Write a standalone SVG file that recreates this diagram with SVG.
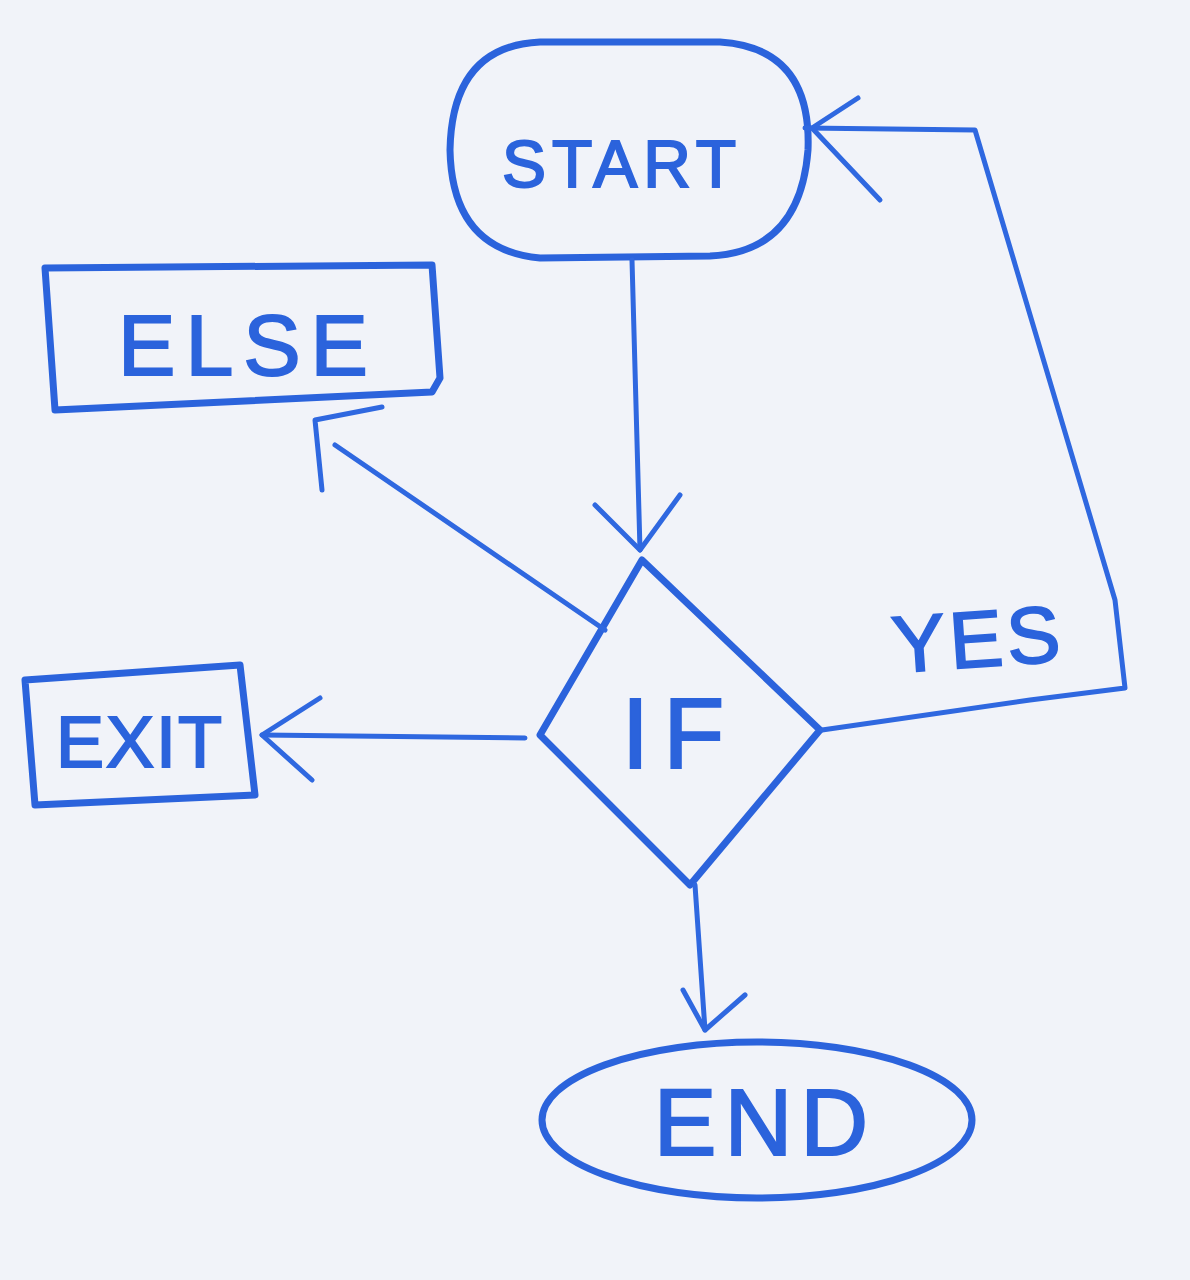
<svg xmlns="http://www.w3.org/2000/svg" width="1190" height="1280" viewBox="0 0 1190 1280">
<style>
.s{fill:none;stroke:#2b63dc;stroke-width:7;stroke-linecap:round;stroke-linejoin:round}
.c{fill:none;stroke:#2f68e0;stroke-width:5;stroke-linecap:round;stroke-linejoin:round}
.t{fill:#2b63dc;font-family:"Liberation Sans",Arial,sans-serif;text-anchor:middle;stroke:#2b63dc;stroke-width:2}
</style>
<rect width="1190" height="1280" fill="#f1f3f9"/>
<g id="start">
<path class="s" d="M540 42 L720 42 Q812 48 808 150 Q800 252 710 256 L540 258 Q452 250 450 150 Q452 46 540 42 Z"/>
<text class="t" x="622" y="187" font-size="66" letter-spacing="6">START</text>
</g>
<g id="else">
<path class="s" d="M45 268 L432 265 L440 378 L432 392 L55 410 L45 268 Z"/>
<text class="t" x="248" y="375" font-size="86" letter-spacing="10">ELSE</text>
</g>
<g id="exit">
<path class="s" d="M25 680 L240 665 L255 795 L35 805 Z"/>
<text class="t" x="140" y="767" font-size="72" letter-spacing="2">EXIT</text>
</g>
<g id="if">
<path class="s" d="M642 560 L820 730 L690 885 L540 735 Z"/>
<text class="t" x="680" y="768" font-size="100" letter-spacing="14">IF</text>
</g>
<g id="end">
<ellipse class="s" cx="757" cy="1120" rx="215" ry="78"/>
<text class="t" x="765" y="1155" font-size="94" letter-spacing="8">END</text>
</g>
<g id="connectors">
<path class="c" d="M632 260 L640 550"/>
<path class="c" d="M595 505 L640 550 L680 495"/>
<path class="c" d="M605 630 L335 445"/>
<path class="c" d="M322 490 L315 420 L382 407"/>
<path class="c" d="M525 738 L262 735"/>
<path class="c" d="M320 698 L262 735 L312 780"/>
<path class="c" d="M822 730 L1030 700 L1125 688 L1115 600 L975 130 L805 128"/>
<path class="c" d="M858 98 L812 128 L880 200"/>
<path class="c" d="M695 885 L705 1030"/>
<path class="c" d="M683 990 L705 1030 L745 995"/>
<text class="t" x="978" y="667" font-size="80" letter-spacing="4" transform="rotate(-4 975 640)">YES</text>
</g>
</svg>
